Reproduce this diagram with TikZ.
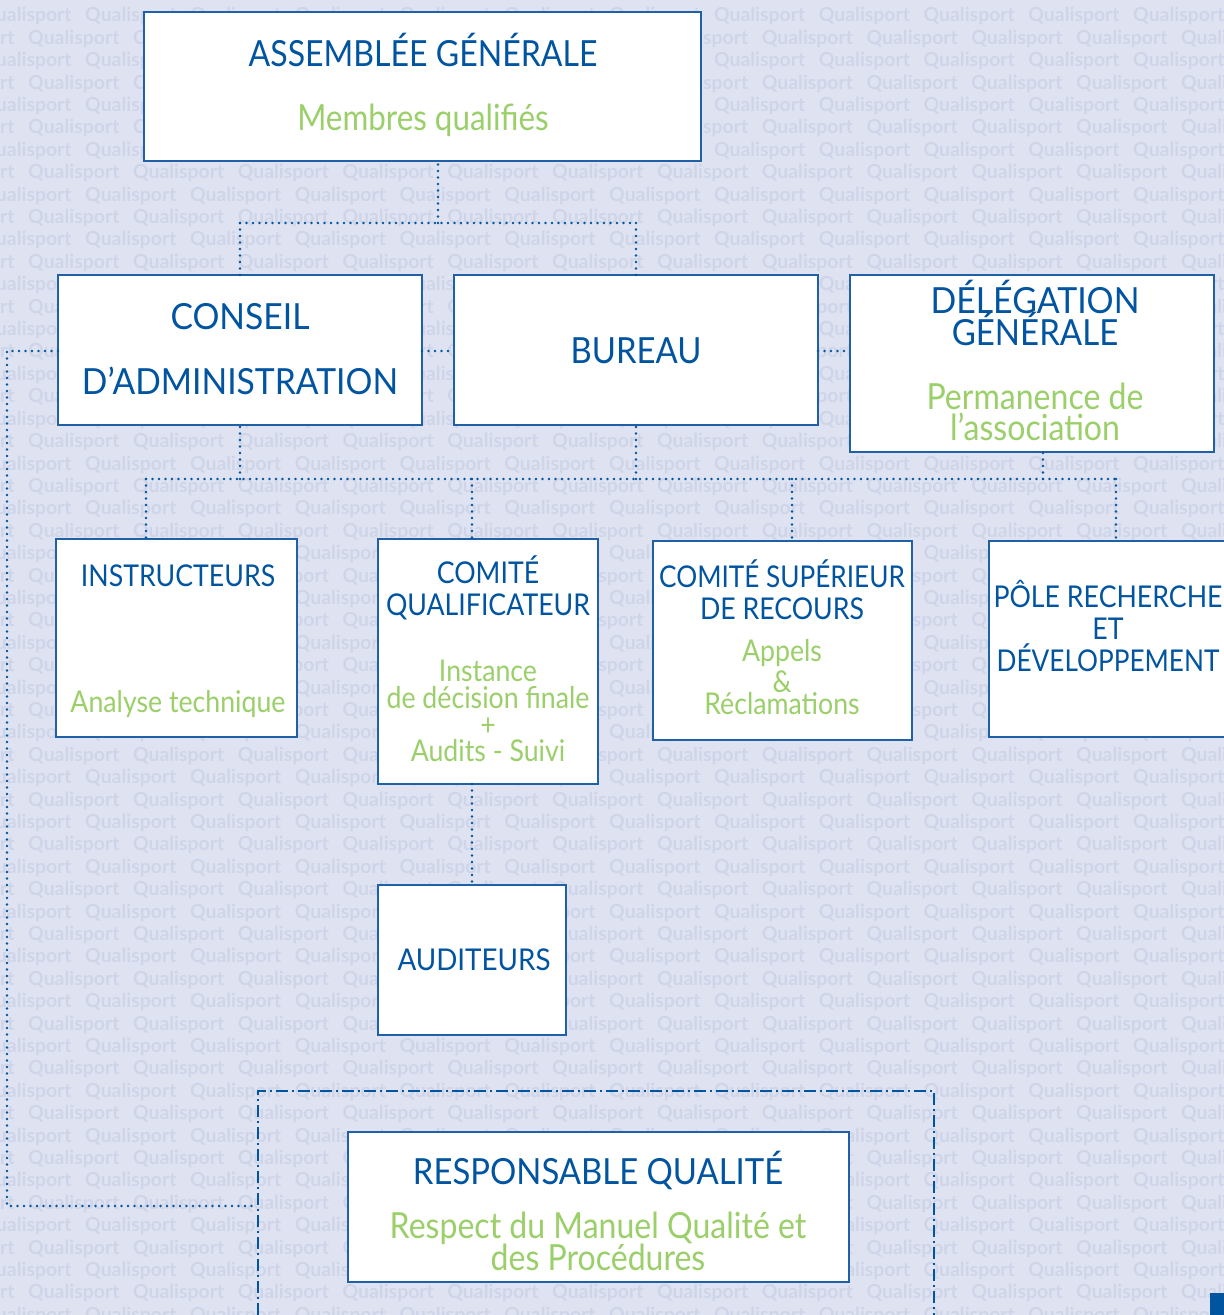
\documentclass[tikz,border=0pt]{standalone}
\usepackage{fontspec}
\setmainfont[FakeStretch=0.89]{Lato}
\newfontfamily\wmfont{Lato Bold}
\definecolor{bgc}{HTML}{DFE3F1}
\definecolor{wmc}{HTML}{CFD5E9}
\definecolor{qblue}{HTML}{0054A0}
\definecolor{qline}{HTML}{1F60A6}
\definecolor{qgreen}{HTML}{9BCF6A}
\newcommand{\hsq}[2]{\scalebox{#1}[1]{#2}}
\tikzset{
  boxn/.style 2 args={draw=qline,fill=white,line width=.8pt,inner sep=0pt,outer sep=0pt,minimum width=#1*0.5pt,minimum height=#2*0.5pt},
  dotline/.style={draw=qblue,line width=1.3pt,line cap=round,dash pattern=on 0pt off 3.25pt},
  dashdotline/.style={draw=qblue,line width=.7pt,dash pattern=on 6pt off 2pt on 1pt off 2pt},
  bt/.style={text=qblue,anchor=base,inner sep=0pt,yshift=-1pt,font=\fontsize{18}{18}\selectfont},
  gt/.style={text=qgreen,anchor=base,inner sep=0pt,yshift=-.5pt,font=\fontsize{18}{18}\selectfont},
  bs/.style={text=qblue,anchor=base,inner sep=0pt,font=\fontsize{15}{15}\selectfont},
  gs/.style={text=qgreen,anchor=base,inner sep=0pt,font=\fontsize{15}{15}\selectfont},
  wm/.style={text=wmc,anchor=base west,inner sep=0pt,font=\wmfont\fontsize{9.7}{10}\selectfont},
}
\begin{document}
\begin{tikzpicture}[x=0.5pt,y=-0.5pt]
\useasboundingbox (0,0) rectangle (1224,1315);
\fill[bgc] (0,0) rectangle (1224,1315);
\foreach \r in {0,...,58}{
  \pgfmathsetmacro{\ybase}{22+22.4*\r}
  \pgfmathsetmacro{\xoff}{iseven(\r)?-20:-77}
  \foreach \c in {0,...,12}{
    \pgfmathsetmacro{\xw}{\xoff+104.8*\c}
    \node[wm] (w\r c\c) at (\xw,\ybase) {Qualisport};
  }
}
% junctions
\coordinate (jtop) at (438,223);
\coordinate (jcaL) at (240,223);
\coordinate (jbuT) at (636,223);
\coordinate (jmid) at (240,479);
\coordinate (jin) at (146,479);
\coordinate (jcq) at (472,479);
\coordinate (jbu) at (636,479);
\coordinate (jcs) at (792,479);
\coordinate (jdg) at (1043,479);
\coordinate (jpo) at (1116,479);
\coordinate (jl1) at (7,351);
\coordinate (jl2) at (7,1206);
\coordinate (jl3) at (258,1206);
\coordinate (rqa) at (258,1315);
\coordinate (rqb) at (258,1091);
\coordinate (rqc) at (934,1091);
\coordinate (rqd) at (934,1315);
% boxes
\node[boxn={557}{149}] (ag) at (422.5,86.5) {};
\node[boxn={364}{150}] (ca) at (240,350) {};
\node[boxn={364}{150}] (bu) at (636,350) {};
\node[boxn={364}{177}] (dg) at (1032,363.5) {};
\node[boxn={241}{198}] (in) at (176.5,638) {};
\node[boxn={220}{245}] (cq) at (488,661.5) {};
\node[boxn={259}{199}] (cs) at (782.5,640.5) {};
\node[boxn={251}{196}] (po) at (1114.5,639) {};
\node[boxn={188}{150}] (au) at (472,960) {};
\node[boxn={501}{150}] (rq) at (598.5,1207) {};
% connectors
\draw[dotline] (jtop) -- (ag.south -| jtop);
\draw[dotline] (jcaL) -- (jbuT);
\draw[dotline] (jcaL) -- (ca.north -| jcaL);
\draw[dotline] (jbuT) -- (bu.north -| jbuT);
\draw[dotline] (ca.east |- jl1) -- (bu.west |- jl1);
\draw[dotline] (bu.east |- jl1) -- (dg.west |- jl1);
\draw[dotline] (ca.west |- jl1) -- (jl1) -- (jl2) -- (jl3);
\draw[dotline] (jmid) -- (ca.south -| jmid);
\draw[dotline] (jin) -- (jpo);
\draw[dotline] (jin) -- (in.north -| jin);
\draw[dotline] (jcq) -- (cq.north -| jcq);
\draw[dotline] (jbu) -- (bu.south -| jbu);
\draw[dotline] (jcs) -- (cs.north -| jcs);
\draw[dotline] (jdg) -- (dg.south -| jdg);
\draw[dotline] (jpo) -- (po.north -| jpo);
\draw[dotline] (cq.south -| jcq) -- (au.north -| jcq);
\draw[dashdotline] (rqa) -- (rqb) -- (rqc) -- (rqd);
% corner square
\node[fill=qblue,inner sep=0pt,minimum width=7pt,minimum height=11pt] (corner) at (1217,1304) {};
% texts
\node[bt] (t1) at (423,65) {ASSEMBLÉE GÉNÉRALE};
\node[gt] (t2) at (423,130) {\hsq{.98}{Membres qualifiés}};
\node[bt] (t3) at (240,328) {\hsq{1.05}{CONSEIL}};
\node[bt] (t4) at (240,392) {\hsq{1.05}{D’ADMINISTRATION}};
\node[bt] (t5) at (636,362) {\hsq{1.025}{BUREAU}};
\node[bt] (t6) at (1035,312) {\hsq{1.055}{DÉLÉGATION}};
\node[bt] (t7) at (1035,344) {\hsq{1.03}{GÉNÉRALE}};
\node[gt] (t8) at (1035,408) {Permanence de};
\node[gt] (t9) at (1035,440) {l’association};
\node[bs] (t10) at (178,586) {INSTRUCTEURS};
\node[gs] (t11) at (178,712) {Analyse technique};
\node[bs] (t12) at (488,583) {COMITÉ};
\node[bs] (t13) at (488,615) {QUALIFICATEUR};
\node[gs] (t14) at (488,681) {Instance};
\node[gs] (t15) at (488,708) {de décision finale};
\node[gs] (t16) at (488,735) {+};
\node[gs] (t17) at (488,761) {Audits - Suivi};
\node[bs] (t18) at (782,587) {\hsq{.98}{COMITÉ SUPÉRIEUR}};
\node[bs] (t19) at (782,619) {DE RECOURS};
\node[gs] (t20) at (782,661) {Appels};
\node[gs] (t21) at (782,692) {\&};
\node[gs] (t22) at (782,714) {Réclamations};
\node[bs] (t23) at (1108,607) {PÔLE RECHERCHE};
\node[bs] (t24) at (1108,639) {ET};
\node[bs] (t25) at (1108,671) {\hsq{.98}{DÉVELOPPEMENT}};
\node[bs] (t26) at (474,970) {\hsq{1.04}{AUDITEURS}};
\node[bt] (t27) at (598,1182) {\hsq{1.025}{RESPONSABLE QUALITÉ}};
\node[gt] (t28) at (598,1237) {Respect du Manuel Qualité et};
\node[gt] (t29) at (598,1269) {des Procédures};
\end{tikzpicture}
\end{document}
